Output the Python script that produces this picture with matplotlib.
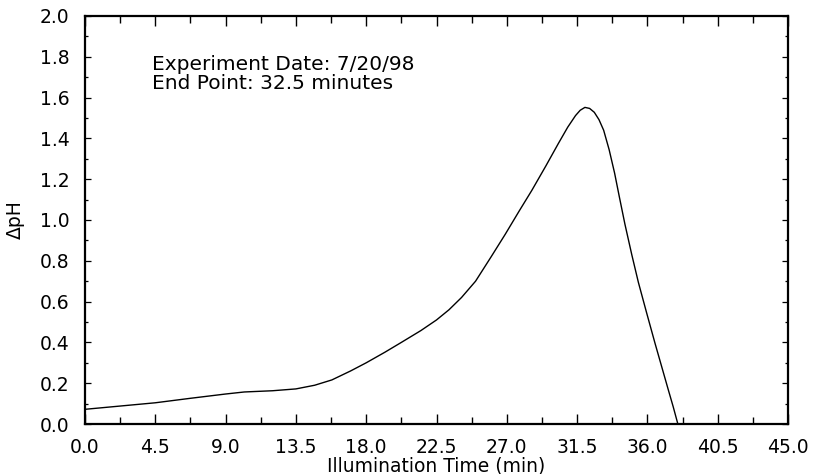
import matplotlib
matplotlib.use("Agg")
import matplotlib.pyplot as plt
from matplotlib.ticker import MultipleLocator, FormatStrFormatter

plt.rcParams['font.family'] = ['DejaVu Sans']

time_min = [0, 2.25, 4.5, 6.75, 9.0, 10.2, 12.0, 13.5, 14.7, 15.8, 17.0, 18.0,
            19.2, 20.25, 21.5, 22.5, 23.3, 24.1, 25.0, 26.0, 26.9, 27.8, 28.6,
            29.5, 30.3, 30.9, 31.4, 31.7, 32.0, 32.3, 32.6, 32.9, 33.2, 33.55,
            33.9, 34.2, 34.56, 35.0, 35.42, 35.95, 36.49, 36.9, 37.34, 37.65,
            37.95]
delta_ph = [0.072, 0.088, 0.104, 0.126, 0.147, 0.157, 0.163, 0.172, 0.19, 0.216,
            0.26, 0.30, 0.352, 0.40, 0.458, 0.51, 0.56, 0.62, 0.70, 0.82, 0.93,
            1.045, 1.145, 1.265, 1.375, 1.455, 1.512, 1.538, 1.552, 1.547, 1.528,
            1.492, 1.44, 1.345, 1.23, 1.115, 0.98, 0.83, 0.695, 0.545, 0.395,
            0.285, 0.167, 0.085, 0.0]

annotation_lines = ["Experiment Date: 7/20/98", "End Point: 32.5 minutes"]

fig = plt.figure(figsize=(8.13, 4.74), dpi=100)
ax = fig.add_axes([85/813, 50/474, 703/813, 408/474])

ax.plot(time_min, delta_ph, color='black', linewidth=1.0)

ax.set_xlim(0, 45)
ax.set_ylim(0, 2.0)
ax.xaxis.set_major_locator(MultipleLocator(4.5))
ax.xaxis.set_minor_locator(MultipleLocator(2.25))
ax.yaxis.set_major_locator(MultipleLocator(0.2))
ax.yaxis.set_minor_locator(MultipleLocator(0.1))
ax.xaxis.set_major_formatter(FormatStrFormatter('%.1f'))
ax.yaxis.set_major_formatter(FormatStrFormatter('%.1f'))

ax.tick_params(axis='x', which='both', direction='in', top=True, bottom=True,
               labelsize=13.5, pad=10, width=1.0)
ax.tick_params(axis='x', which='major', length=7)
ax.tick_params(axis='x', which='minor', length=5)
ax.tick_params(axis='y', which='both', direction='in', left=True, right=True,
               labelsize=13.5, pad=11, width=0.9)
ax.tick_params(axis='y', which='major', length=4)
ax.tick_params(axis='y', which='minor', length=2.5)

for s in ax.spines.values():
    s.set_linewidth(1.6)

ax.set_xlabel("Illumination Time (min)", fontsize=13.5)
ax.xaxis.set_label_coords(0.5, -0.08)
ax.set_ylabel("\u0394pH", fontsize=13.5)
ax.yaxis.set_label_coords(-0.085, 0.5)

ax.text(0.095, 0.905, "\n".join(annotation_lines), transform=ax.transAxes,
        fontsize=14.5, va='top', ha='left', linespacing=1.0)

fig.savefig("out.png", dpi=100)
